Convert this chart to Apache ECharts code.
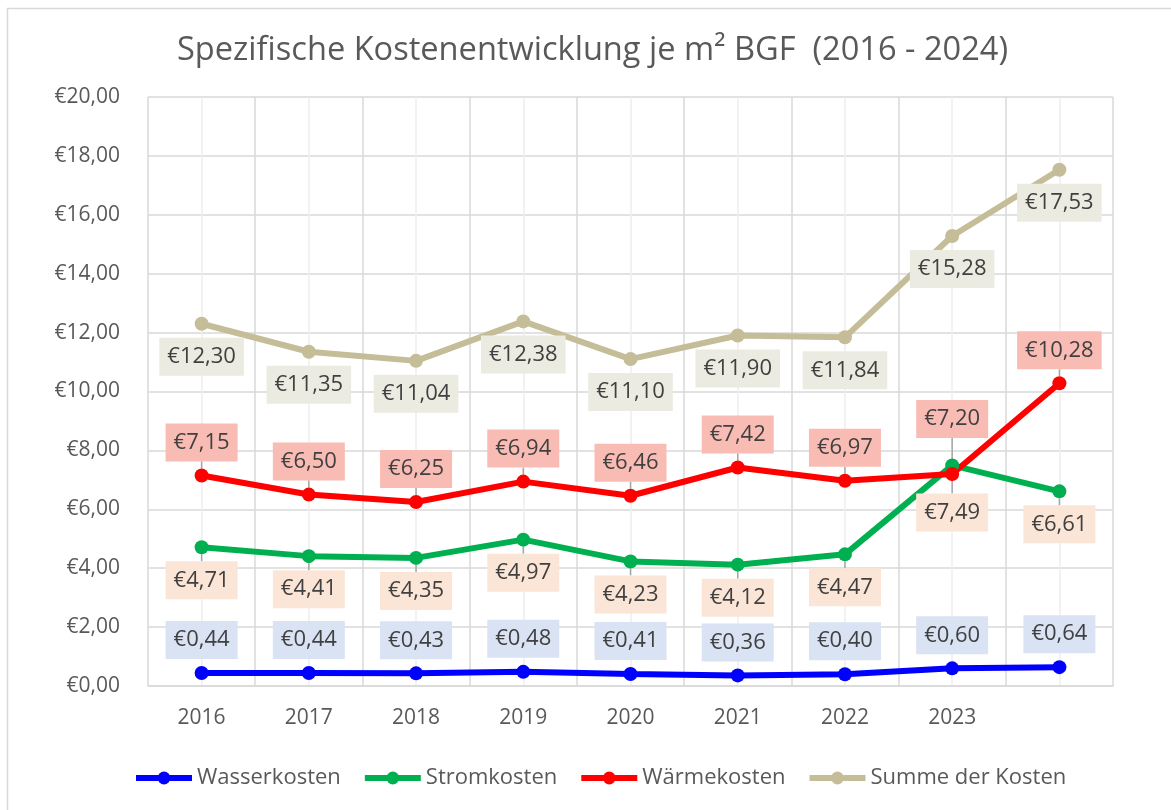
<!DOCTYPE html>
<html>
<head>
<meta charset="utf-8">
<script src="https://cdn.jsdelivr.net/npm/echarts@6/dist/echarts.min.js"></script>
<style>html,body{margin:0;padding:0;background:#fff;}#c{width:1171px;height:810px;}</style>
</head>
<body>
<div id="c"></div>
<script>
const categories = ['2016','2017','2018','2019','2020','2021','2022','2023',''];
const wasserkosten = [0.44,0.44,0.43,0.48,0.41,0.36,0.40,0.60,0.64];
const stromkosten = [4.71,4.41,4.35,4.97,4.23,4.12,4.47,7.49,6.61];
const waermekosten = [7.15,6.50,6.25,6.94,6.46,7.42,6.97,7.20,10.28];
const summeKosten = [12.30,11.35,11.04,12.38,11.10,11.90,11.84,15.28,17.53];
const yTicks = {min:0, max:20, interval:2};

const FONT = 'Open Sans';
const fmt = v => '€' + v.toFixed(2).replace('.', ',');

function mkSeries(name, data, color, labelBg, pos, shift) {
  return {
    name, type:'line', data, xAxisIndex:0, yAxisIndex:0,
    symbol:'circle', symbolSize:14,
    lineStyle:{color, width:6},
    itemStyle:{color},
    label:{show:true, position:pos, distance:7, formatter:p=>fmt(p.value),
      fontFamily:FONT, fontSize:22, color:'#404040', backgroundColor:labelBg,
      padding:[7,8,7,8], lineHeight:24},
    labelLine:{show:!!shift, lineStyle:{color:'#a6a6a6', width:1.5}},
    labelLayout: shift ? function(p){ return shift[p.dataIndex] ? {dy:shift[p.dataIndex]} : {}; } : undefined,
    emphasis:{disabled:true},
    animation:false
  };
}

const chart = echarts.init(document.getElementById('c'));
chart.setOption({
  backgroundColor:'#fff',
  animation:false,
  graphic:[{type:'rect', shape:{x:7.5,y:8.5,width:1300,height:900}, style:{fill:'none', stroke:'#d9d9d9', lineWidth:1.5}, silent:true}],
  title:{text:'Spezifische Kostenentwicklung je m² BGF  (2016 - 2024)', left:172, top:29,
    textStyle:{fontFamily:FONT, fontSize:32.6, fontWeight:'normal', color:'#595959'}},
  legend:{bottom:16, left:128, itemWidth:56, itemHeight:16, itemGap:21,
    lineStyle:{width:6},
    textStyle:{fontFamily:FONT, fontSize:22, color:'#595959'},
    data:['Wasserkosten','Stromkosten','Wärmekosten','Summe der Kosten']},
  grid:{left:148, right:58, top:97, bottom:124},
  xAxis:[
    {type:'category', data:categories, boundaryGap:true,
     axisLine:{show:true, lineStyle:{color:'#d9d9d9', width:1.5}}, axisTick:{show:false},
     axisLabel:{fontFamily:FONT, fontSize:21, color:'#595959', margin:22},
     splitLine:{show:false}},
    {type:'value', min:0, max:18, interval:1, position:'top', show:true,
     axisLine:{show:false}, axisTick:{show:false}, axisLabel:{show:false},
     splitLine:{show:true, lineStyle:{color:['#d9d9d9','#eeeeee'], width:1.5}}}
  ],
  yAxis:{type:'value', min:yTicks.min, max:yTicks.max, interval:yTicks.interval,
    axisLine:{show:false}, axisTick:{show:false},
    axisLabel:{fontFamily:FONT, fontSize:21, color:'#595959', margin:28, formatter:v=>fmt(v)},
    splitLine:{lineStyle:{color:'#d9d9d9', width:1.5}}},
  series:[
    mkSeries('Wasserkosten', wasserkosten, '#0000ff', '#dae3f3', 'top'),
    mkSeries('Stromkosten', stromkosten, '#00b050', '#fbe5d6', 'bottom', {7:14}),
    mkSeries('Wärmekosten', waermekosten, '#ff0000', '#f9bcb4', 'top', {7:-22}),
    mkSeries('Summe der Kosten', summeKosten, '#c4bd97', '#ecebe1', 'bottom')
  ]
});
</script>
</body>
</html>
